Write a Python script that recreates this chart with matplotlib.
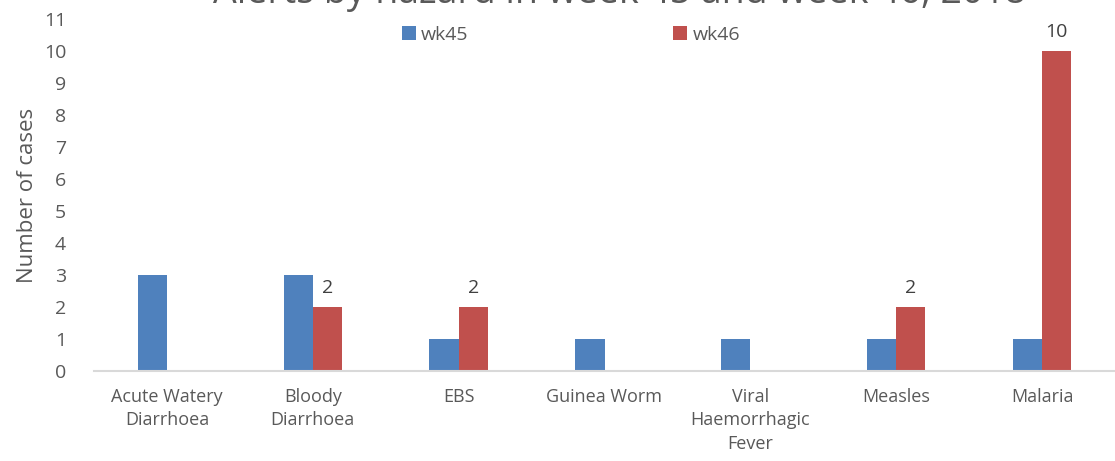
import numpy as np
import matplotlib
matplotlib.use("Agg")
import matplotlib.pyplot as plt

# ── DATA ──────────────────────────────────────────────────────────────
hazards = ["Acute Watery\nDiarrhoea", "Bloody\nDiarrhoea", "EBS", "Guinea Worm",
           "Viral\nHaemorrhagic\nFever", "Measles", "Malaria"]
wk45 = [3, 3, 1, 1, 1, 1, 1]
wk46 = [0, 2, 2, 0, 0, 2, 10]
yticks = list(range(0, 12))

plt.rcParams["font.family"] = ["Open Sans", "DejaVu Sans"]
grey = "#595959"

fig = plt.figure(figsize=(11.15, 4.61), dpi=100)
ax = fig.add_axes([94 / 1115, 90 / 461, 1021 / 1115, 352 / 461])

x = np.arange(len(hazards))
w = 0.2
ax.bar(x - w / 2, wk45, w, color="#4F81BD", label="wk45")
bars46 = ax.bar(x + w / 2, wk46, w, color="#C0504D", label="wk46")

# data labels only on the wk46 bars that have a value
for b, v in zip(bars46, wk46):
    if v > 0:
        ax.text(b.get_x() + b.get_width() / 2, v + 0.3, str(v),
                ha="center", va="bottom", fontsize=14, color="#404040")

ax.set_xlim(-0.5, len(hazards) - 0.5)
ax.set_ylim(0, 11)
ax.set_yticks(yticks)
ax.set_xticks(x)
ax.set_xticklabels(hazards, fontsize=13, color=grey, linespacing=1.4)
ax.tick_params(axis="y", labelsize=14, labelcolor=grey, length=0, pad=20)
ax.tick_params(axis="x", length=0, pad=12)
for s in ["top", "right", "left"]:
    ax.spines[s].set_visible(False)
ax.spines["bottom"].set_color("#d9d9d9")
ax.spines["bottom"].set_linewidth(1.5)
ax.set_ylabel("Number of cases", fontsize=16, color=grey, labelpad=4)

# title is clipped at the top edge, as in the source image
fig.text(0.556, 1 - 3 / 461, "Alerts by hazard in week 45 and week 46, 2018",
         ha="center", va="baseline", fontsize=27, color=grey)

leg = ax.legend(loc="center", bbox_to_anchor=(0.467, 0.955), ncol=2,
                frameon=False, fontsize=14, handlelength=0.75, handleheight=0.75,
                handletextpad=0.25, columnspacing=10.5)
for t in leg.get_texts():
    t.set_color(grey)

fig.savefig("out.png", dpi=100)
